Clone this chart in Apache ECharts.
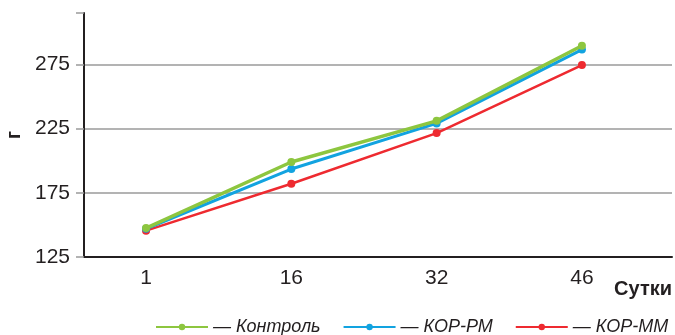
<!DOCTYPE html>
<html><head><meta charset="utf-8">
<script src="https://cdn.jsdelivr.net/npm/echarts@6/dist/echarts.min.js"></script>
<style>html,body{margin:0;padding:0;background:#fff}#c{width:675px;height:335px}</style>
</head><body><div id="c"></div>
<script>
const days = ['1', '16', '32', '46'];
const control = [147.5, 199, 231, 289.5];
const korRM = [147, 193.5, 229, 286.5];
const korMM = [145.5, 182, 221.5, 274.5];
const yTicks = [125, 175, 225, 275];
const seriesNames = ['Контроль', 'КОР-РМ', 'КОР-ММ'];
const colors = ['#8dc63f', '#12a3e0', '#ee2a30'];

const toPts = arr => arr.map((v, i) => [i, v]);
const font = 'Liberation Sans';
const chart = echarts.init(document.getElementById('c'));
chart.setOption({
  animation: false,
  grid: {left: 84, right: 3, top: 13, bottom: 78, containLabel: false, outerBoundsMode: 'none'},
  xAxis: {
    type: 'value', min: -0.427, max: 3.62,
    axisLine: {show: true, onZero: false, lineStyle: {color: '#231f20', width: 2}},
    axisTick: {show: false},
    splitLine: {show: false},
    axisLabel: {customValues: [0, 1, 2, 3], formatter: v => days[Math.round(v)] || '', color: '#231f20', fontSize: 21, fontFamily: font, margin: 11}
  },
  yAxis: {
    type: 'value', min: 125, max: 315, interval: 50,
    name: 'г', nameLocation: 'middle', nameRotate: 90, nameGap: 57,
    nameTextStyle: {fontSize: 20, fontWeight: 'bold', color: '#231f20', fontFamily: font},
    axisLine: {show: true, onZero: false, lineStyle: {color: '#231f20', width: 2}},
    axisTick: {show: true, inside: false, length: 8, lineStyle: {color: '#9a9a9a', width: 1.5}},
    axisLabel: {customValues: yTicks, color: '#231f20', fontSize: 21, fontFamily: font, margin: 14},
    splitLine: {show: true, lineStyle: {color: ['#9a9a9a', '#9a9a9a', '#9a9a9a', '#9a9a9a', 'rgba(0,0,0,0)'], width: 1.5}}
  },
  legend: {
    top: 313, left: 150, itemWidth: 52, itemHeight: 8, itemGap: 22,
    data: seriesNames,
    formatter: n => '— ' + n,
    textStyle: {fontSize: 18, fontStyle: 'italic', color: '#231f20', fontFamily: font}
  },
  graphic: [{type: 'text', right: 3, top: 279, style: {text: 'Сутки', font: 'bold 20px "Liberation Sans"', fill: '#231f20'}}],
  series: [
    {name: seriesNames[0], type: 'line', data: toPts(control), color: colors[0], symbol: 'circle', symbolSize: 8, lineStyle: {width: 3.5}, z: 4},
    {name: seriesNames[1], type: 'line', data: toPts(korRM), color: colors[1], symbol: 'circle', symbolSize: 8, lineStyle: {width: 3}, z: 3},
    {name: seriesNames[2], type: 'line', data: toPts(korMM), color: colors[2], symbol: 'circle', symbolSize: 8, lineStyle: {width: 2.5}, z: 2}
  ]
});
</script></body></html>
